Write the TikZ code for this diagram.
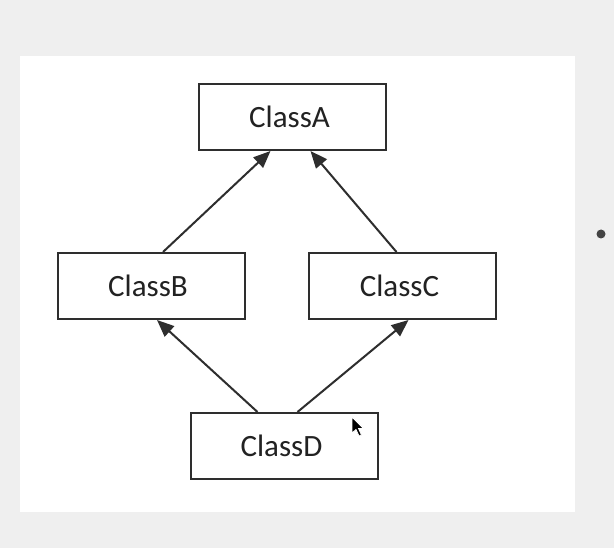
\documentclass[tikz,border=0pt]{standalone}
\usepackage{fontspec}
\setmainfont{Carlito}
\usetikzlibrary{arrows.meta}
\definecolor{pagebg}{HTML}{EFEFEF}
\definecolor{ink}{HTML}{2E2E2E}
\definecolor{textink}{HTML}{222222}
\begin{document}
\begin{tikzpicture}[x=1pt,y=-1pt,
  classbox/.style={draw=ink,line width=2pt,fill=white,minimum width=187pt,minimum height=66pt,
    inner sep=0pt,font=\fontsize{31pt}{31pt}\selectfont,text=textink},
  inherit/.style={draw=ink,line width=2pt,-{Triangle[length=17pt,width=14pt]}}]
  % page and slide panel
  \fill[pagebg] (0,0) rectangle (614,548);
  \useasboundingbox (0,0) rectangle (614,548);
  \fill[white] (19.5,56) rectangle (574.5,512);
  % class boxes (labels sit a little left of centre)
  \node[classbox] (A) at (292.5,117) {ClassA\hspace*{6pt}};
  \node[classbox] (B) at (151,286) {ClassB\hspace*{6pt}};
  \node[classbox] (C) at (402.5,286) {ClassC\hspace*{6pt}};
  \node[classbox] (D) at (284.5,446) {ClassD\hspace*{6pt}};
  % inheritance arrows
  \draw[inherit] ([xshift=12pt]B.north) -- ([xshift=-22pt]A.south);
  \draw[inherit] ([xshift=-6pt]C.north) -- ([xshift=18pt]A.south);
  \draw[inherit] ([xshift=-27pt]D.north) -- ([xshift=6pt]B.south);
  \draw[inherit] ([xshift=13pt]D.north) -- ([xshift=6pt]C.south);
  % bullet on the right
  \node[circle,fill=ink!90,minimum size=9pt,inner sep=0pt] (dot) at (601,234) {};
  % mouse pointer
  \fill[black,draw=white,line width=0.8pt]
    (352,417) -- (352,433) -- (356,429.5) -- (359,436) -- (361.5,435) -- (358.5,428.5) -- (363.5,428.5) -- cycle;
\end{tikzpicture}
\end{document}
